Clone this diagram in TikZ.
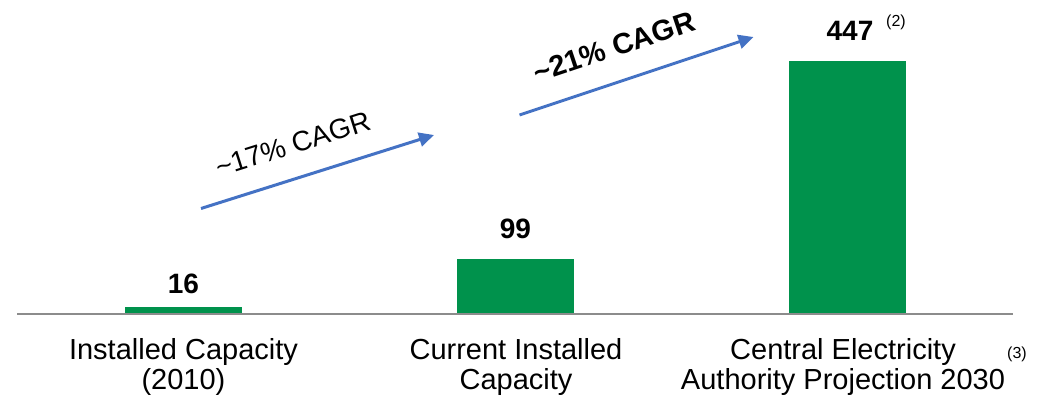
\documentclass[tikz,border=0pt]{standalone}
\usepackage{fontspec}
\setmainfont{Liberation Sans}
\usepackage{tikz}
\usetikzlibrary{arrows.meta}

\definecolor{barGreen}{RGB}{0,146,76}
\definecolor{groBlue}{RGB}{68,114,196}
\definecolor{axisGray}{RGB}{140,140,140}

\begin{document}
\begin{tikzpicture}[x=1pt,y=-1pt]

  \tikzset{BAR/.style={fill=barGreen, draw=none, anchor=south, minimum width=117pt, inner sep=0pt}}
  \tikzset{VAL/.style={anchor=base, inner sep=0pt, font=\fontsize{28}{30}\bfseries\selectfont}}
  \tikzset{CAT/.style={anchor=north, align=center, inner sep=0pt, font=\fontsize{29}{30}\selectfont}}
  \tikzset{NOTE/.style={inner sep=0pt, font=\fontsize{16}{18}\selectfont}}
  \tikzset{GRO/.style={draw=groBlue, line width=3pt, -{Triangle[length=15pt,width=14pt]}}}

  \useasboundingbox (0,0) rectangle (1053,401);

  % bars
  \node[BAR, minimum height=7pt]   (b0) at (183.5,313.7) {};
  \node[BAR, minimum height=54.7pt] (b1) at (515.5,313.7) {};
  \node[BAR, minimum height=252pt] (b2) at (847.5,313.7) {};

  % axis
  \coordinate (a0) at (17,313.7);
  \coordinate (a1) at (1013,313.7);
  \draw[axisGray, line width=2pt] (a0) -- (a1);

  % values
  \node[VAL] (v0) at (183.5,293) {16};
  \node[VAL] (v1) at (515.5,239) {99};
  \node[VAL] (v2) at (850,41) {447};
  \node[NOTE] (n2) at (896,22) {(2)};

  % categories
  \node[CAT] (c0) at (183.5,338) {Installed Capacity\\(2010)};
  \node[CAT] (c1) at (516,338) {Current Installed\\Capacity};
  \node[CAT] (c2) at (843,338) {Central Electricity\\Authority Projection 2030};
  \node[NOTE] (n3) at (1017,354) {(3)};

  % growth arrows
  \coordinate (g0) at (201,208.5);
  \coordinate (g1) at (434,135);
  \coordinate (g2) at (519.5,115);
  \coordinate (g3) at (753.5,37);
  \draw[GRO] (g0) -- (g1);
  \draw[GRO] (g2) -- (g3);

  \node[rotate=17.5, inner sep=0pt, font=\fontsize{28}{30}\selectfont] (r0) at (293,144) {\symbol{"7E}17\% CAGR};
  \node[rotate=18.5, inner sep=0pt, font=\fontsize{29}{30}\bfseries\selectfont] (r1) at (614,47) {\symbol{"7E}21\% CAGR};

\end{tikzpicture}
\end{document}
